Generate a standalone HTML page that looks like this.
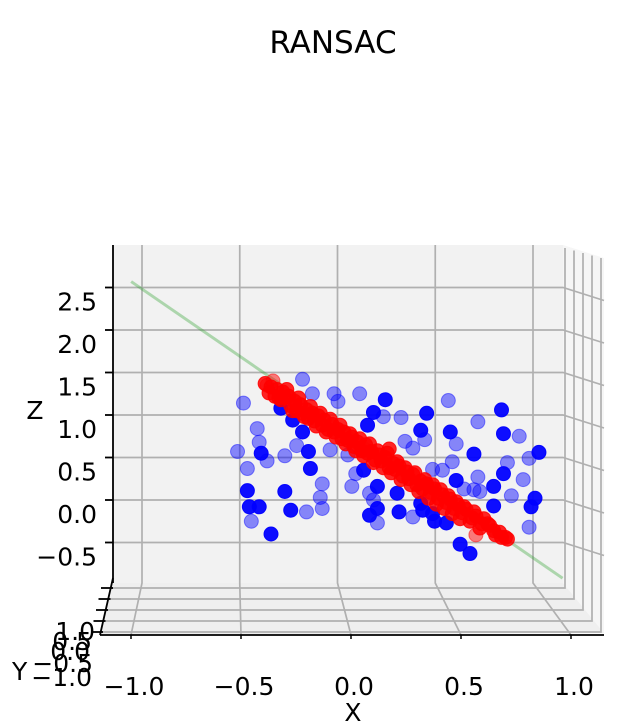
<!DOCTYPE html>
<html><head><meta charset="utf-8"><style>
html,body{margin:0;padding:0;background:#fff;}
svg text{font-family:"DejaVu Sans","Liberation Sans",sans-serif;fill:#000;}
</style></head><body>
<svg id="chart" width="630" height="722" viewBox="0 0 630 722" xmlns="http://www.w3.org/2000/svg">
<text x="333" y="53" font-size="31" text-anchor="middle">RANSAC</text>
<g id="panes">
  <polygon points="113,245 563,245 563,583 113,583" fill="#f2f2f2"/>
  <polygon points="563,245 604,258 604,633 563,583" fill="#f6f6f6"/>
  <polygon points="113,583 563,583 604,633 100,635" fill="#efefef"/>
</g>
<g id="grid" stroke="#b0b0b0" stroke-width="1.7" fill="none"></g>
<g id="marks"></g>
<g id="axes" stroke="#000" stroke-width="1.8" fill="none">
  <line x1="113" y1="245" x2="113" y2="583"/>
  <line x1="113" y1="578" x2="100" y2="635"/>
  <line x1="100" y1="635" x2="604" y2="635"/>
</g>
<g id="labels" font-size="25"></g>
<text x="353" y="721" font-size="25" text-anchor="middle">X</text>
<text x="35" y="419" font-size="25" text-anchor="middle">Z</text>
<g font-size="25">
  <text x="95" y="640" text-anchor="end">1.0</text>
  <text x="92" y="650" text-anchor="end">0.5</text>
  <text x="90" y="660" text-anchor="end">0.0</text>
  <text x="93" y="672" text-anchor="end">−0.5</text>
  <text x="92" y="686" text-anchor="end">−1.0</text>
  <text x="12" y="680">Y</text>
</g>
</svg>
<script>
// Data
const zTicks = [2.5, 2.0, 1.5, 1.0, 0.5, 0.0, -0.5];
const zTickLabels = ["2.5","2.0","1.5","1.0","0.5","0.0","−0.5"];
const xTicks = [-1.0, -0.5, 0.0, 0.5, 1.0];
const xTickLabels = ["−1.0","−0.5","0.0","0.5","1.0"];
const yTicks = [1.0, 0.5, 0.0, -0.5, -1.0];
const blueX = [-0.48,-0.18,-0.41,-0.40,-0.51,-0.39,-0.46,-0.36,-0.27,-0.21,-0.15,-0.14,-0.46,-0.27,-0.08,-0.09,-0.08,-0.16,-0.24,-0.45,-0.40,-0.44,-0.34,0.11,0.24,0.18,0.23,0.32,0.45,0.42,0.56,0.57,0.60,0.71,0.83,0.84,0.92,0.69,0.34,0.44,0.38,0.58,0.53,0.48,0.60,0.71,0.86,0.84,0.79,0.97,1.02,0.94,0.88,0.79,1.00,0.98,0.97,0.62,0.67,0.64,0.72,0.69,0.31,0.38,0.20,0.16,0.20,0.18,0.16,0.20,0.13,0.09,0.15,0.07,-0.04,0.05,-0.13,-0.02,0.00,-0.23,-0.18,-0.29,0.43,0.49,0.55,0.42,0.48,0.30];
const blueZ = [1.14,1.42,0.84,0.68,0.57,0.55,0.37,0.46,0.52,0.64,0.57,0.37,0.11,0.10,0.19,0.03,-0.10,-0.14,-0.12,-0.08,-0.08,-0.25,-0.40,1.25,1.18,1.03,0.98,0.97,1.02,0.82,1.17,0.80,0.66,0.92,1.06,0.78,0.75,0.54,0.69,0.71,0.61,0.45,0.35,0.36,0.23,0.27,0.44,0.31,0.16,0.49,0.56,0.24,0.05,-0.07,0.02,-0.08,-0.32,-0.52,-0.63,0.13,0.10,0.12,-0.14,-0.20,-0.27,-0.18,-0.10,0.00,0.08,0.16,0.35,0.31,0.88,0.16,0.59,0.53,1.25,1.25,1.16,0.94,0.80,1.08,-0.12,-0.25,-0.27,-0.04,-0.16,0.08];
const blueY = [1,1,1,1,1,-1,1,1,1,1,-1,-1,-1,-1,1,1,1,1,-1,-1,-1,1,-1,1,-1,-1,1,1,-1,-1,1,-1,1,1,-1,-1,1,-1,1,1,1,1,1,1,-1,1,1,-1,-1,1,-1,1,1,-1,-1,-1,1,-1,-1,1,1,1,-1,1,1,-1,-1,1,1,-1,-1,1,-1,1,1,1,1,1,1,-1,-1,-1,-1,-1,-1,-1,-1,-1];
const redX = [-0.36,-0.37,-0.35,-0.34,-0.32,-0.31,-0.29,-0.28,-0.27,-0.25,-0.24,-0.22,-0.21,-0.19,-0.18,-0.16,-0.15,-0.13,-0.12,-0.10,-0.08,-0.07,-0.05,-0.03,-0.02,0.00,0.02,0.03,0.05,0.07,0.08,0.10,0.12,0.14,0.15,0.17,0.19,0.21,0.22,0.24,0.26,0.26,0.28,0.29,0.31,0.33,0.35,0.36,0.38,0.40,0.42,0.43,0.45,0.47,0.49,0.51,0.53,0.55,0.57,0.59,0.61,0.63,0.65,0.68,0.70,0.70,0.73,0.76,0.79,0.82,0.85,0.86,
  -0.33,-0.30,-0.26,-0.23,-0.20,-0.17,-0.14,-0.11,-0.09,-0.06,-0.04,-0.01,0.01,0.04,0.06,0.09,0.11,0.13,0.16,0.18,0.20,0.23,0.25,0.27,0.30,0.32,0.34,0.37,0.39,0.41,0.44,0.46,0.48,0.50,0.52,0.54,0.56,0.58,0.60,0.62,0.64,0.67,0.69,0.72,0.74,0.77,0.80,0.83];
const redZ = [1.35,1.37,1.26,1.33,1.22,1.30,1.18,1.27,1.20,1.22,1.11,1.16,1.05,1.12,1.02,1.06,0.96,1.02,0.93,0.99,0.88,0.94,0.83,0.89,0.80,0.83,0.72,0.80,0.70,0.74,0.63,0.68,0.58,0.65,0.55,0.57,0.47,0.53,0.46,0.50,0.38,0.60,0.43,0.36,0.40,0.28,0.33,0.25,0.30,0.18,0.22,0.13,0.19,0.09,0.13,0.02,0.06,-0.03,0.01,-0.10,-0.06,-0.15,-0.11,-0.21,-0.19,-0.41,-0.28,-0.28,-0.36,-0.38,-0.44,-0.46,
  1.40,1.20,1.30,1.05,1.20,0.98,1.10,0.87,1.02,0.80,0.95,0.74,0.88,0.66,0.78,0.58,0.72,0.52,0.66,0.44,0.58,0.38,0.55,0.32,0.45,0.24,0.38,0.18,0.32,0.10,0.24,0.02,0.18,-0.05,0.12,-0.10,0.05,-0.16,-0.02,-0.22,-0.08,-0.25,-0.14,-0.33,-0.22,-0.30,-0.41,-0.44];
const redY = [1,-1,-1,-1,-1,-1,-1,-1,-1,-1,-1,-1,-1,-1,-1,-1,-1,-1,-1,-1,-1,-1,-1,-1,-1,-1,-1,-1,-1,-1,-1,-1,-1,-1,-1,-1,-1,-1,-1,-1,-1,-1,-1,-1,-1,-1,-1,-1,-1,-1,-1,-1,-1,-1,-1,-1,-1,-1,-1,-1,-1,-1,-1,-1,-1,1,-1,-1,-1,-1,-1,-1,
  1,-1,-1,-1,-1,-1,-1,-1,-1,-1,-1,-1,-1,-1,-1,-1,-1,-1,-1,-1,-1,-1,-1,-1,-1,-1,-1,-1,-1,-1,-1,-1,-1,-1,-1,-1,-1,-1,-1,-1,-1,-1,-1,-1,-1,-1,-1,-1];
const fitX = [-1.05, 1.14];
const fitZ = [2.57, -0.92];

// Axis functions
function sx(v){ return 338 + v*197; }
function sz(v){ return 500 - v*85; }
function alphaFromDepth(d, near, far){ return d < 0 ? near : far; }

const NS = "http://www.w3.org/2000/svg";
const grid = document.getElementById('grid');
const marks = document.getElementById('marks');
const labels = document.getElementById('labels');
function mk(tag, attrs, parent){
  const e = document.createElementNS(NS, tag);
  for (const k in attrs) e.setAttribute(k, attrs[k]);
  parent.appendChild(e);
  return e;
}

zTicks.forEach(function(t, i){
  const y = sz(t);
  const l = mk('polyline', {points: "113,"+y+" 563,"+y+" 604,"+(y+13)}, grid);
  
  
  const tk = mk('line', {x1:105, y1:y, x2:113, y2:y, stroke:'#000', 'stroke-width':1.8}, labels);
  
  
  const tx = mk('text', {x:97, y:y+23, 'text-anchor':'end'}, labels);
  tx.textContent = zTickLabels[i];
  
  
});
xTicks.forEach(function(t, i){
  const xb = 142 + (t+1)*195.5;
  const xf = 131 + (t+1)*220;
  const l = mk('polyline', {points: xb+",245 "+xb+",583 "+xf+",635"}, grid);
  
  
  const tk = mk('line', {x1:xf, y1:635, x2:xf, y2:639, stroke:'#000', 'stroke-width':1.5}, labels);
  
  
  const tx = mk('text', {x:xf+3, y:695, 'text-anchor':'middle'}, labels);
  tx.textContent = xTickLabels[i];
  
  
});
yTicks.forEach(function(t){
  const f = (1 - t)/2;
  const y = 588 + f*44;
  const xr = 565 + f*36;
  const xl = 111 - f*10;
  const l = mk('polyline', {points: xl+","+y+" "+xr+","+y+" "+xr+","+(248+f*10)}, grid);
  
  
  const tk = mk('line', {x1:xl-10, y1:y, x2:xl+2, y2:y, stroke:'#000', 'stroke-width':1.8}, labels);
  
  
});

const fl = mk('line', {x1:sx(fitX[0]), y1:sz(fitZ[0]), x2:sx(fitX[1]), y2:sz(fitZ[1]), stroke:'#2ca02c', 'stroke-opacity':0.35, 'stroke-width':3}, marks);



blueX.forEach(function(v, i){
  const c = mk('circle', {cx:sx(v), cy:sz(blueZ[i]), r:7, fill:'#0000ff', stroke:'#0000ff', 'stroke-width':1, 'fill-opacity':alphaFromDepth(blueY[i],0.95,0.45), 'stroke-opacity':alphaFromDepth(blueY[i],0.95,0.45)}, marks);
  
  
});
redX.forEach(function(v, i){
  const c = mk('circle', {cx:sx(v), cy:sz(redZ[i]), r:7, fill:'#ff0000', stroke:'#ff0000', 'stroke-width':1, 'fill-opacity':alphaFromDepth(redY[i],0.85,0.5), 'stroke-opacity':alphaFromDepth(redY[i],0.85,0.5)}, marks);
  
  
});
</script>
</body></html>
